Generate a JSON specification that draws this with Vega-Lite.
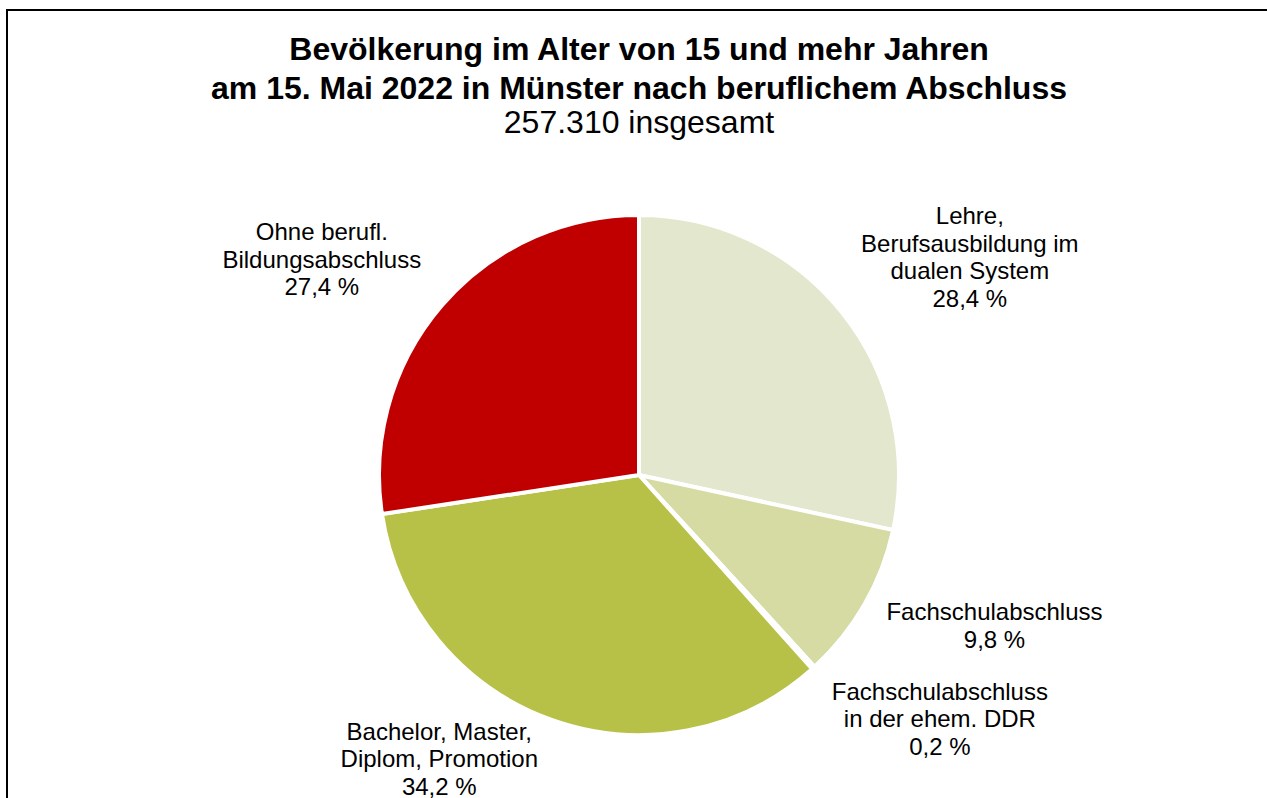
{
  "$schema": "https://vega.github.io/schema/vega-lite/v6.json",
  "autosize": {"type": "none"},
  "width": 1264,
  "height": 930,
  "padding": {"left": 7, "top": 10, "right": 0, "bottom": 0},
  "background": "white",
  "config": {
    "view": {"stroke": "#000000", "strokeWidth": 2},
    "font": "Liberation Sans"
  },
  "title": {
    "text": ["Bevölkerung im Alter von 15 und mehr Jahren", "am 15. Mai 2022 in Münster nach beruflichem Abschluss"],
    "subtitle": "257.310 insgesamt",
    "anchor": "middle",
    "orient": "top",
    "offset": -131,
    "font": "Liberation Sans",
    "fontSize": 32,
    "fontWeight": "bold",
    "color": "#000000",
    "lineHeight": 39.5,
    "subtitleFont": "Liberation Sans",
    "subtitleFontSize": 32,
    "subtitleColor": "#000000",
    "subtitleLineHeight": 39,
    "subtitlePadding": 2
  },
  "data": {
    "values": [
      {"k": "Lehre", "label": "Lehre,\nBerufsausbildung im\ndualen System\n28,4 %", "anteil": 28.4},
      {"k": "Fachschulabschluss", "label": "Fachschulabschluss\n9,8 %", "anteil": 9.8},
      {"k": "DDR", "label": "Fachschulabschluss\nin der ehem. DDR\n0,2 %", "anteil": 0.2},
      {"k": "Hochschule", "label": "Bachelor, Master,\nDiplom, Promotion\n34,2 %", "anteil": 34.2},
      {"k": "Ohne", "label": "Ohne berufl.\nBildungsabschluss\n27,4 %", "anteil": 27.4}
    ]
  },
  "transform": [{"window": [{"op": "row_number", "as": "nr"}]}],
  "layer": [
    {
      "mark": {"type": "rect", "fill": "#ffffff", "fillOpacity": 0, "stroke": "#000000", "strokeWidth": 2},
      "encoding": {}
    },
    {
      "encoding": {
        "theta": {"field": "anteil", "type": "quantitative", "stack": true},
        "order": {"field": "nr", "type": "quantitative"}
      },
      "layer": [
        {
          "mark": {"type": "arc", "outerRadius": 260, "stroke": "#ffffff", "strokeWidth": 4},
          "encoding": {
            "color": {
              "field": "k", "type": "nominal", "legend": null,
              "scale": {
                "domain": ["Lehre", "Fachschulabschluss", "DDR", "Hochschule", "Ohne"],
                "range": ["#E3E7CD", "#D5DBA2", "#9CA33B", "#B8C147", "#C00000"]
              }
            }
          }
        },
        {
          "mark": {"type": "text", "radius": 380, "dx": 35, "dy": -19, "fontSize": 24, "lineHeight": 27.5, "lineBreak": "\n", "align": "center", "baseline": "middle", "color": "#000000"},
          "encoding": {"text": {"condition": {"test": "datum.k === 'Lehre'", "field": "label"}, "value": ""}}
        },
        {
          "mark": {"type": "text", "radius": 380, "dx": 26, "dy": -51, "fontSize": 24, "lineHeight": 27.5, "lineBreak": "\n", "align": "center", "baseline": "middle", "color": "#000000"},
          "encoding": {"text": {"condition": {"test": "datum.k === 'Fachschulabschluss'", "field": "label"}, "value": ""}}
        },
        {
          "mark": {"type": "text", "radius": 380, "dx": 46, "dy": -64, "fontSize": 24, "lineHeight": 27.5, "lineBreak": "\n", "align": "center", "baseline": "middle", "color": "#000000"},
          "encoding": {"text": {"condition": {"test": "datum.k === 'DDR'", "field": "label"}, "value": ""}}
        },
        {
          "mark": {"type": "text", "radius": 380, "dx": -71, "dy": -100, "fontSize": 24, "lineHeight": 27.5, "lineBreak": "\n", "align": "center", "baseline": "middle", "color": "#000000"},
          "encoding": {"text": {"condition": {"test": "datum.k === 'Hochschule'", "field": "label"}, "value": ""}}
        },
        {
          "mark": {"type": "text", "radius": 380, "dx": -29, "dy": 6, "fontSize": 24, "lineHeight": 27.5, "lineBreak": "\n", "align": "center", "baseline": "middle", "color": "#000000"},
          "encoding": {"text": {"condition": {"test": "datum.k === 'Ohne'", "field": "label"}, "value": ""}}
        }
      ]
    }
  ]
}
